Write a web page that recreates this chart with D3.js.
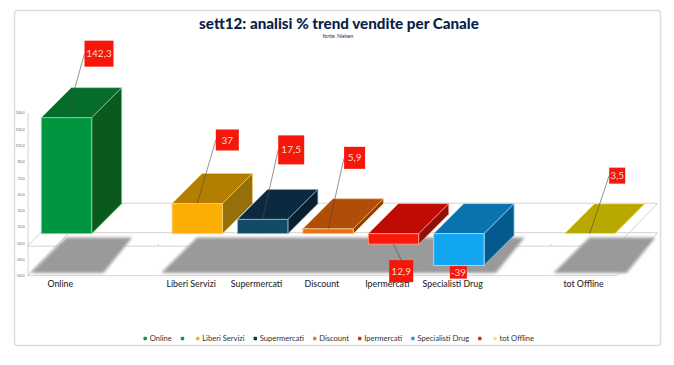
<!DOCTYPE html>
<html>
<head>
<meta charset="utf-8">
<script src="https://cdnjs.cloudflare.com/ajax/libs/d3/7.8.5/d3.min.js"></script>
<style>
    html, body { margin: 0; padding: 0; background: #fff; }
    svg { display: block; }
    text { font-family: Lato, "Open Sans", sans-serif; }
</style>
</head>
<body>
<div id="chart"></div>
<script>
// blank categories are real empty slots in the source chart
const categories = ["Online", " ", "Liberi Servizi", "Supermercati", "Discount", "Ipermercati", "Specialisti Drug", "  ", "tot Offline"];
const barValues = [142.3, null, 37, 17.5, 5.9, -12.9, -39, null, 0];
const valueLabels = ["142,3", "", "37", "17,5", "5,9", "12,9", "-39", "", "3,5"];
const yTicks = [150, 130, 110, 90, 70, 50, 30, 10, -10, -30, -50];

const frontColors = ["#00953f", "#00953f", "#fdae04", "#124a68", "#e2731c", "#fb1a0a", "#12a5f0", "#fb1a0a", "#e6d400"];
const topColors = ["#066c2b", "#066c2b", "#b47e00", "#0b2a3f", "#b04d06", "#c00b04", "#0873ad", "#c00b04", "#b9a800"];
const sideColors = ["#0a5a1e", "#0a5a1e", "#96700a", "#081f30", "#8a3f06", "#90100a", "#06598f", "#90100a", "#9a8c00"];
const edgeColors = ["#86d6a0", "#86d6a0", "#f8d26a", "#8fb6cc", "#f9bd7c", "#f7a090", "#a5e0f7", "#f7a090", "#f6ec90"];
const legendColors = ["#0a9850", "#0a9850", "#f2b035", "#0f3350", "#e07b2a", "#d62a20", "#2a9fd6", "#ee1c10", "#f4e86a"];

// label box placement, relative to the middle of the bar's outer front edge
const labelBoxes = [
    { dx: 18, dy: -77, w: 29, h: 26 },
    null,
    { dx: 18.5, dy: -74, w: 23, h: 21 },
    { dx: 15.5, dy: -84, w: 26, h: 29 },
    { dx: 16, dy: -82, w: 21, h: 22 },
    { dx: -4.3, dy: 16, w: 24, h: 22 },
    { dx: -9, dy: 0.7, w: 17, h: 12.5 },
    null,
    { dx: 19.5, dy: -66, w: 16, h: 16 }
];

const width = 674, height = 365;
const depthX = 30, depthY = 30;   // 3d offset of the bars
const barWidth = 50.4, barInset = 13.7;
const floorX0 = 27.6, floorX1 = 616.2;

const svg = d3.select("#chart").append("svg")
    .attr("width", width)
    .attr("height", height);

const defs = svg.append("defs");
defs.append("filter").attr("id", "soft")
    .attr("x", "-10%").attr("y", "-20%").attr("width", "120%").attr("height", "140%")
    .append("feGaussianBlur").attr("stdDeviation", 1.8);

const x = d3.scaleBand().domain(categories).range([floorX0, floorX1]).padding(0);
const y = d3.scaleLinear().domain([-50, 150]).range([275.7, 112.7]);
const barBase = y(0) - 1.3;
const h = v => Math.abs(y(v) - y(0));

// card
svg.append("rect")
    .attr("x", 14.5).attr("y", 10.5).attr("width", 646).attr("height", 335)
    .attr("rx", 3)
    .style("fill", "#fff").style("stroke", "#dcdcdc").style("stroke-width", 1.4);

svg.append("text")
    .attr("x", 339).attr("y", 29)
    .attr("text-anchor", "middle")
    .style("font-size", "15.2px").style("font-weight", 900).style("fill", "#0b1f4b")
    .text("sett12: analisi % trend vendite per Canale");

svg.append("text")
    .attr("x", 338).attr("y", 38)
    .attr("text-anchor", "middle")
    .style("font-size", "5px").style("fill", "#1d2f5c")
    .text("fonte: Nielsen");

// two floors, one at the zero line and one at the bottom of the axis
const line = d3.line();
[y(-10) + 3.1, y(-50)].forEach(fy => {
    svg.append("path")
        .attr("d", line([[floorX0, fy], [floorX1, fy], [floorX1 + 41.5, fy - 43], [floorX0 + 41.5, fy - 43]]) + "Z")
        .style("fill", "none").style("stroke", "#d2d2d2").style("stroke-width", 1);
});

const yAxis = d3.axisLeft(y)
    .tickValues(yTicks)
    .tickSize(0)
    .tickPadding(3)
    .tickFormat(d => d3.format(".1f")(d).replace(".", ","));

svg.append("g")
    .attr("transform", `translate(${floorX0},0)`)
    .call(yAxis)
    .call(g => g.select(".domain").style("stroke", "#d2d2d2"))
    .call(g => g.selectAll("text").style("font-size", "3.6px").style("fill", "#666"));

// ticks on the upper floor
const edges = categories.map(c => x(c)).concat(floorX1);
const centers = [categories[0], categories[8]].map(c => x(c) + x.bandwidth() / 2);
svg.append("g").selectAll("line")
    .data(edges.concat(centers))
    .join("line")
    .attr("x1", d => d).attr("x2", d => d)
    .attr("y1", y(-10) + 0.6).attr("y2", y(-10) + 3.1)
    .style("stroke", "#c8c8c8").style("stroke-width", 0.8);

// shadows, wide enough that neighbours run together
const barCats = categories.filter((c, i) => barValues[i] !== null);
svg.append("g").attr("filter", "url(#soft)").selectAll("path")
    .data(barCats)
    .join("path")
    .attr("d", c => {
        const x0 = x(c) + barInset - 10;
        return line([[x0, 272.5], [x0 + 72, 272.5], [x0 + 100, 238], [x0 + 35, 238]]) + "Z";
    })
    .style("fill", "#9a9a9a").style("stroke", "#9a9a9a").style("stroke-width", 1);

// bars, painted left to right so the later ones sit in front
const bars = svg.append("g").selectAll("g")
    .data(categories.map((c, i) => ({ c, i, v: barValues[i] })).filter(d => d.v !== null))
    .join("g");

bars.each(function (d) {
    const g = d3.select(this);
    const x0 = x(d.c) + barInset;
    const top = d.v >= 0 ? barBase - h(d.v) : barBase;
    const bh = h(d.v);
    d.x0 = x0;
    d.top = top;
    d.bh = bh;

    g.append("path")
        .attr("d", line([[x0, top], [x0 + depthX, top - depthY], [x0 + barWidth + depthX, top - depthY], [x0 + barWidth, top]]) + "Z")
        .style("fill", topColors[d.i]).style("stroke", edgeColors[d.i]).style("stroke-width", bh > 0 ? 0.5 : 0.9);
    if (bh > 0) {
        g.append("path")
            .attr("d", line([[x0 + barWidth, top], [x0 + barWidth + depthX, top - depthY], [x0 + barWidth + depthX, top - depthY + bh], [x0 + barWidth, top + bh]]) + "Z")
            .style("fill", sideColors[d.i]).style("stroke", edgeColors[d.i]).style("stroke-width", 0.7);
        g.append("rect")
            .attr("x", x0).attr("y", top)
            .attr("width", barWidth).attr("height", bh)
            .style("fill", frontColors[d.i]).style("stroke", edgeColors[d.i]).style("stroke-width", 0.9);
    }
});

// leaders and red value boxes
const labelled = bars.data().filter(d => labelBoxes[d.i]);
const anchor = d => {
    const b = labelBoxes[d.i];
    const cx = d.x0 + barWidth / 2;
    const yEdge = d.v >= 0 ? d.top : d.top + d.bh;
    return { cx, yEdge, bx: cx + b.dx, by: yEdge + b.dy, w: b.w, h: b.h };
};

svg.append("g").selectAll("line")
    .data(labelled)
    .join("line")
    .attr("x1", d => anchor(d).cx)
    .attr("y1", d => anchor(d).yEdge)
    .attr("x2", d => anchor(d).bx + (d.v >= 0 ? 0 : anchor(d).w * 0.5))
    .attr("y2", d => anchor(d).by + (d.v >= 0 ? anchor(d).h / 2 : 0))
    .style("stroke", "#4a4a4a").style("stroke-width", 0.6);

// category labels
const xAxis = d3.axisBottom(x).tickSize(0).tickPadding(4.5);
svg.append("g")
    .attr("transform", "translate(0,276.5)")
    .call(xAxis)
    .call(g => g.select(".domain").remove())
    .call(g => g.selectAll("text").style("font-size", "8.8px").style("font-weight", 500).style("fill", "#2a2a2a"));

// boxes after the axis labels, the low ones sit over them in the source
const boxes = svg.append("g").selectAll("g")
    .data(labelled)
    .join("g")
    .attr("transform", d => `translate(${anchor(d).bx},${anchor(d).by})`);

boxes.append("rect")
    .attr("width", d => anchor(d).w)
    .attr("height", d => anchor(d).h)
    .style("fill", "#f5170a");

boxes.append("text")
    .attr("x", d => anchor(d).w / 2)
    .attr("y", d => anchor(d).h / 2)
    .attr("dy", "0.36em")
    .attr("text-anchor", "middle")
    .style("font-size", "10px")
    .style("fill", "#ffd9c8")
    .text(d => valueLabels[d.i]);

// legend, laid out left to right like the spreadsheet does
let legendX = 143.5;
categories.forEach((c, i) => {
    const item = svg.append("g").attr("transform", `translate(${legendX},338.5)`);
    item.append("rect")
        .attr("x", 0).attr("y", -1.7).attr("width", 3.4).attr("height", 3.4)
        .attr("rx", 0.8)
        .style("fill", legendColors[i]);
    const label = item.append("text")
        .attr("x", 6.2).attr("dy", "0.34em")
        .style("font-size", "7.6px").style("fill", "#333")
        .text(c.trim());
    legendX += 6.2 + label.node().getComputedTextLength() + 9;
});
</script>
</body>
</html>
